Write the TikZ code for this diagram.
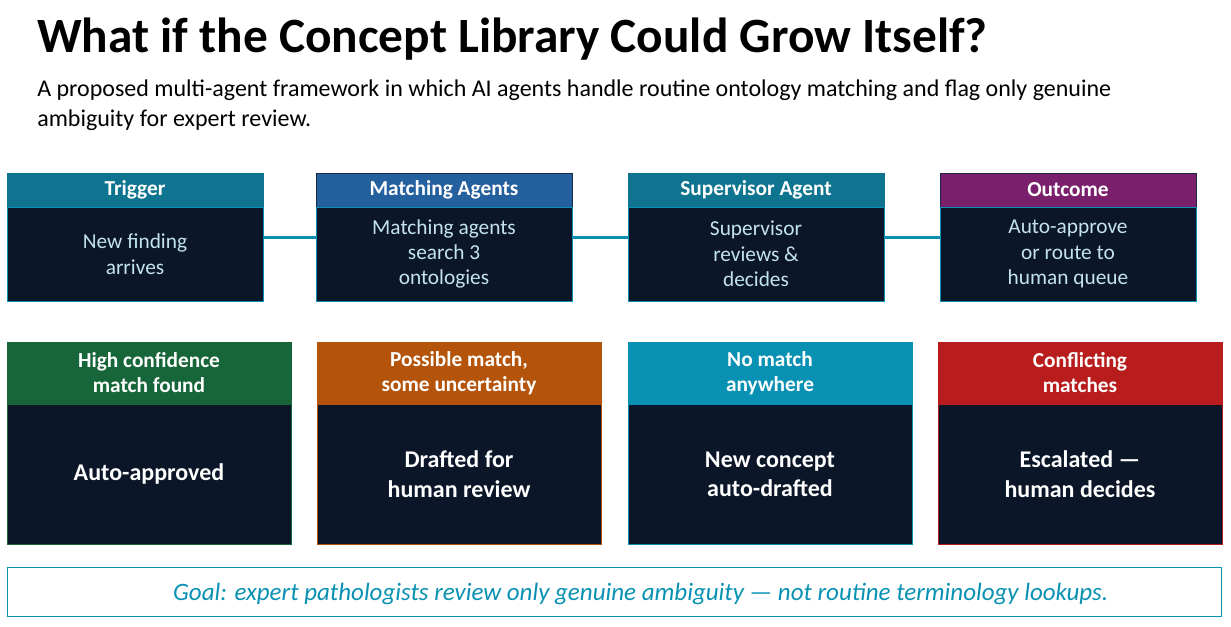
\documentclass[tikz,border=0pt]{standalone}
\usepackage{fontspec}
\setmainfont{Carlito}
\usetikzlibrary{positioning}

\definecolor{navy}{HTML}{0B1628}
\definecolor{tealhead}{HTML}{0E7490}
\definecolor{tealline}{HTML}{0891B2}
\definecolor{bluehead}{HTML}{245F9E}
\definecolor{purplehead}{HTML}{7A1F6C}
\definecolor{darkedge}{HTML}{1B2A44}
\definecolor{greenhead}{HTML}{17663A}
\definecolor{orangehead}{HTML}{B4540A}
\definecolor{redhead}{HTML}{B91C1C}
\definecolor{lightblue}{HTML}{C3E2F2}

\begin{document}
\begin{tikzpicture}[x=0.75pt, y=-0.75pt,
  node distance=0pt,
  stephead/.style={draw, inner sep=0pt, outer sep=0pt, anchor=north west,
    minimum width=192pt, minimum height=25.5pt, text=white,
    font=\bfseries\fontsize{16}{19}\selectfont},
  stepbody/.style={draw=tealline, fill=navy, inner sep=0pt, outer sep=0pt,
    minimum width=192pt, minimum height=70.5pt, text=lightblue, align=center,
    font=\fontsize{16}{19}\selectfont},
  casehead/.style={draw, inner sep=0pt, outer sep=0pt, anchor=north west,
    minimum width=213pt, minimum height=46.5pt, text=white, align=center,
    font=\bfseries\fontsize{16}{18.75}\selectfont},
  casebody/.style={fill=navy, inner sep=0pt, outer sep=0pt,
    minimum width=213pt, minimum height=105pt, text=white, align=center,
    font=\bfseries\fontsize{18}{22}\selectfont},
  link/.style={draw=tealline, line width=2.25pt}]
\useasboundingbox (0,0) rectangle (1231,626);

% Title
\node[anchor=base west, inner sep=0pt, font=\bfseries\fontsize{37}{42}\selectfont] (title) at (37,52) {What if the Concept Library Could Grow Itself?};
\node[anchor=north west, inner sep=0pt, align=left, font=\fontsize{18}{22.5}\selectfont] (sub) at (37,80)
  {A proposed multi-agent framework in which AI agents handle routine ontology matching and flag only genuine\\ambiguity for expert review.};

% Pipeline
\node[stephead, draw=tealhead, fill=tealhead] (h1) at (7,173) {Trigger};
\node[stepbody, below=of h1] (b1) {New finding\\arrives};
\node[stephead, draw=darkedge, fill=bluehead] (h2) at (316,173) {Matching Agents};
\node[stepbody, below=of h2] (b2) {Matching agents\\search 3\\ontologies};
\node[stephead, draw=tealhead, fill=tealhead] (h3) at (628,173) {Supervisor Agent};
\node[stepbody, below=of h3] (b3) {Supervisor\\reviews \&\\decides};
\node[stephead, draw=darkedge, fill=purplehead] (h4) at (940,173) {Outcome};
\node[stepbody, below=of h4] (b4) {Auto-approve\\or route to\\human queue};

% Lines
\draw[link] ([yshift=12.75pt]b1.east) -- ([yshift=12.75pt]b2.west);
\draw[link] ([yshift=12.75pt]b2.east) -- ([yshift=12.75pt]b3.west);
\draw[link] ([yshift=12.75pt]b3.east) -- ([yshift=12.75pt]b4.west);

% Cases
\node[casehead, draw=greenhead, fill=greenhead] (c1) at (7,342) {High confidence\\match found};
\node[casebody, draw=greenhead, below=of c1] (r1) {Auto-approved};
\node[casehead, draw=orangehead, fill=orangehead] (c2) at (317,342) {Possible match,\\some uncertainty};
\node[casebody, draw=orangehead, below=of c2] (r2) {Drafted for\\human review};
\node[casehead, draw=tealline, fill=tealline] (c3) at (628,342) {No match\\anywhere};
\node[casebody, draw=tealline, below=of c3] (r3) {New concept\\auto-drafted};
\node[casehead, draw=redhead, fill=redhead] (c4) at (938,342) {Conflicting\\matches};
\node[casebody, draw=redhead, below=of c4] (r4) {Escalated ---\\human decides};

% Goal
\node[draw=tealline, line width=1.1pt, anchor=north west, inner sep=0pt,
  minimum width=910.5pt, minimum height=36.75pt] (goal) at (7,567) {};
\node[text=tealline, font=\itshape\fontsize{18.75}{22}\selectfont] (goaltext) at ([xshift=19.5pt,yshift=-1pt]goal.center)
  {Goal: expert pathologists review only genuine ambiguity --- not routine terminology lookups.};
\end{tikzpicture}
\end{document}
